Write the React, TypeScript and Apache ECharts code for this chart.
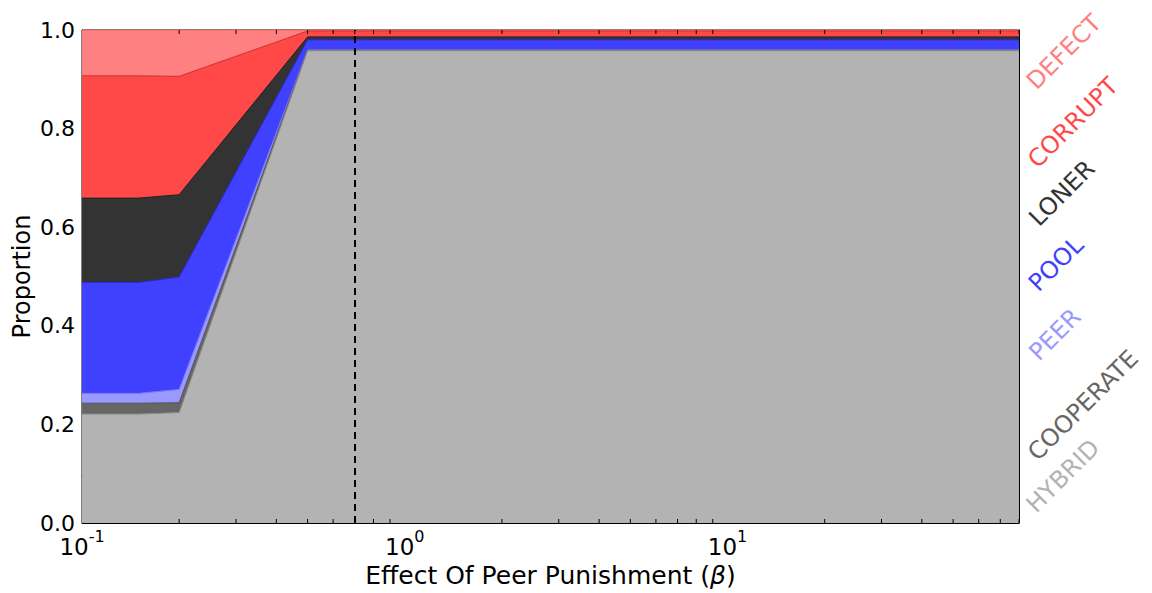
import React, { useEffect, useRef } from "react";
import * as echarts from "echarts";

// x values: effect of peer punishment (beta)
const BETA = [0.1, 0.15, 0.2, 0.5, 1, 2, 5, 10, 20, 50, 80];
// stacked proportions (bottom to top)
const HYBRID = [0.221, 0.221, 0.224, 0.958, 0.958, 0.958, 0.958, 0.958, 0.958, 0.958, 0.958];
const COOPERATE = [0.022, 0.022, 0.02, 0.001, 0.001, 0.001, 0.001, 0.001, 0.001, 0.001, 0.001];
const PEER = [0.02, 0.02, 0.027, 0.001, 0.001, 0.001, 0.001, 0.001, 0.001, 0.001, 0.001];
const POOL = [0.225, 0.225, 0.228, 0.02, 0.02, 0.02, 0.02, 0.02, 0.02, 0.02, 0.02];
const LONER = [0.171, 0.171, 0.167, 0.006, 0.006, 0.006, 0.006, 0.006, 0.006, 0.006, 0.006];
const CORRUPT = [0.248, 0.248, 0.24, 0.012, 0.012, 0.012, 0.012, 0.012, 0.012, 0.012, 0.012];
const DEFECT = [0.093, 0.093, 0.094, 0.002, 0.002, 0.002, 0.002, 0.002, 0.002, 0.002, 0.002];

const SERIES_NAMES = ["HYBRID", "COOPERATE", "PEER", "POOL", "LONER", "CORRUPT", "DEFECT"];
const SERIES_VALUES = [HYBRID, COOPERATE, PEER, POOL, LONER, CORRUPT, DEFECT];
const FILL = ["#b3b3b3", "#666666", "#9999ff", "#4040ff", "#333333", "#ff4848", "#ff8080"];
const EDGE = ["#8a8a8a", "#555555", "#7777ee", "#2a2ad0", "#222222", "#d03030", "#ff6060"];

const Y_TICKS = [0, 0.2, 0.4, 0.6, 0.8, 1.0];
const X_MAJOR = [0.1, 1, 10];
const X_MINOR = [0.2, 0.3, 0.4, 0.5, 0.6, 0.7, 0.8, 0.9, 2, 3, 4, 5, 6, 7, 8, 9, 20, 30, 40, 50, 60, 70, 80];
const THRESHOLD = 0.7;
// right-side label slots
const LABEL_SLOTS = [0, 1, 2, 3, 4, 5, 6];
const LABEL_CX = [1063, 1083, 1055, 1056, 1062, 1073, 1064];

const FONT = "DejaVu Sans";

export default function App() {
  const ref = useRef<HTMLDivElement>(null);
  useEffect(() => {
    const chart = echarts.init(ref.current!, undefined, { renderer: "svg" });
    const grid = { left: 82, right: 133, top: 30, bottom: 70 };
    // cumulative tops of each stacked layer
    const cum: number[][] = [];
    SERIES_VALUES.forEach((vals, i) => {
      cum.push(vals.map((v, k) => (i > 0 ? cum[i - 1][k] : 0) + v));
    });
    const areaSeries = SERIES_NAMES.map((name, i) => ({
      name,
      type: "line",
      symbol: "none",
      data: BETA.map((b, k) => [b, cum[i][k]]),
      lineStyle: { color: EDGE[i], width: 1 },
      areaStyle: { color: FILL[i], opacity: 1, origin: "start" },
      z: 2 + (SERIES_NAMES.length - i),
      silent: true,
    }));
    const option: any = {
      animation: false,
      grid: {
        ...grid,
        show: true,
        borderColor: "#000",
        borderWidth: 1,
        containLabel: false,
        outerBoundsMode: "none",
      },
      xAxis: [
        {
          type: "log",
          logBase: 10,
          min: 0.1,
          max: 80,
          position: "bottom",
          name: "Effect Of Peer Punishment ({it|β})",
          nameLocation: "middle",
          nameGap: 40,
          nameMoveOverlap: false,
          nameTextStyle: {
            fontFamily: FONT,
            fontSize: 25,
            color: "#000",
            rich: { it: { fontFamily: FONT, fontSize: 25, fontStyle: "italic", color: "#000" } },
          },
          axisLine: { show: true, lineStyle: { color: "#000", width: 1 } },
          axisTick: { show: true, inside: true, length: 8, lineStyle: { color: "#000" }, customValues: X_MAJOR },
          axisLabel: {
            show: true,
            customValues: X_MAJOR,
            margin: 5,
            fontFamily: FONT,
            color: "#000",
            formatter: (v: number) => {
              const e = Math.round(Math.log10(v));
              return "{b|10}{s|" + e + "}";
            },
            rich: {
              b: { fontFamily: FONT, fontSize: 23, color: "#000", verticalAlign: "bottom", lineHeight: 30 },
              s: { fontFamily: FONT, fontSize: 16, color: "#000", verticalAlign: "top", lineHeight: 30 },
            },
          },
          splitLine: { show: false },
        },
        {
          type: "log",
          logBase: 10,
          min: 0.1,
          max: 80,
          position: "top",
          axisLine: { show: true, lineStyle: { color: "#000", width: 1 } },
          axisTick: { show: true, inside: true, length: 8, lineStyle: { color: "#000" }, customValues: X_MAJOR },
          axisLabel: { show: false },
          splitLine: { show: false },
        },
      ],
      yAxis: [
        {
          type: "value",
          min: 0,
          max: 1,
          interval: 0.2,
          position: "left",
          name: "Proportion",
          nameLocation: "middle",
          nameGap: 48,
          nameMoveOverlap: false,
          nameTextStyle: { fontFamily: FONT, fontSize: 24, color: "#000" },
          axisLine: { show: true, lineStyle: { color: "#000", width: 1 } },
          axisTick: { show: true, inside: true, length: 8, lineStyle: { color: "#000" }, customValues: Y_TICKS },
          axisLabel: {
            margin: 7,
            fontFamily: FONT,
            fontSize: 22,
            color: "#000",
            formatter: (v: number) => v.toFixed(1),
          },
          splitLine: { show: false },
        },
        {
          type: "value",
          min: -0.665,
          max: 6.31,
          position: "right",
          axisLine: { show: true, lineStyle: { color: "#000", width: 1 } },
          axisTick: { show: true, inside: true, length: 8, lineStyle: { color: "#000" }, customValues: LABEL_SLOTS },
          axisLabel: { show: false },
          splitLine: { show: false },
        },
      ],
      series: [
        ...areaSeries,
        {
          type: "custom",
          name: "minor",
          silent: true,
          z: 20,
          data: X_MINOR.map((v) => [v, 0]),
          encode: { x: 0, y: 1 },
          renderItem: (params: any, api: any) => {
            const x = api.value(0);
            const pb = api.coord([x, 0]);
            const pt = api.coord([x, 1]);
            return {
              type: "group",
              children: [
                { type: "line", shape: { x1: pb[0], y1: pb[1], x2: pb[0], y2: pb[1] - 4 }, style: { stroke: "#000", lineWidth: 1 } },
                { type: "line", shape: { x1: pt[0], y1: pt[1], x2: pt[0], y2: pt[1] + 4 }, style: { stroke: "#000", lineWidth: 1 } },
              ],
            };
          },
          markLine: {
            silent: true,
            symbol: "none",
            label: { show: false },
            lineStyle: { color: "#000", type: [7, 5], width: 2 },
            data: [{ xAxis: THRESHOLD }],
            z: 30,
          },
        },
      ],
    };
    chart.setOption(option);
    const graphic = SERIES_NAMES.map((name, i) => {
      const y = chart.convertToPixel({ yAxisIndex: 1 }, LABEL_SLOTS[i]) as number;
      return {
        type: "text",
        x: LABEL_CX[i],
        y,
        rotation: Math.PI / 4,
        style: {
          text: name,
          fill: FILL[i],
          font: `24px "${FONT}"`,
          textAlign: "center",
          textVerticalAlign: "middle",
        },
        z: 100,
      };
    });
    chart.setOption({ graphic });
    return () => chart.dispose();
  }, []);
  return (
    <div
      ref={ref}
      style={{ position: "absolute", left: 0, top: 0, width: 1152, height: 593, background: "#fff" }}
    />
  );
}
